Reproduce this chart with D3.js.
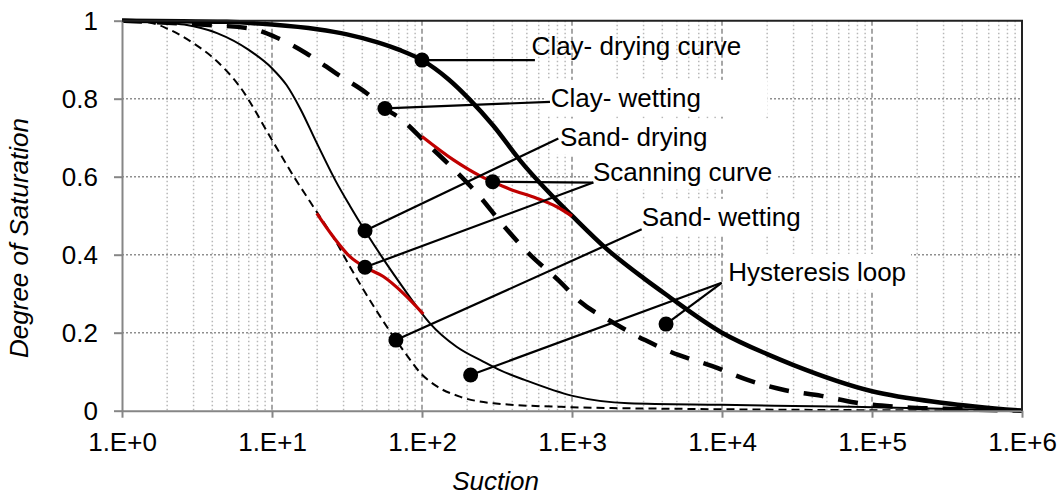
<!DOCTYPE html>
<meta charset="utf-8">
<style>
body { margin: 0; background: #fff; }
text { font-family: "Liberation Sans", Arial, sans-serif; fill: #000; }
.grid-major-h { stroke: #8f8f8f; stroke-width: 1.5px; stroke-dasharray: 2,2; }
.grid-major-v { stroke: #8a8a8a; stroke-width: 1.5px; stroke-dasharray: 5,3; }
.grid-minor-v { stroke: #b8b8b8; stroke-width: 1.5px; stroke-dasharray: 1.5,2.5; }
.axis path, .axis line { stroke: #868686; stroke-width: 2px; }
.axis text { font-size: 26px; fill: #000; }
</style>
<svg width="1063" height="495"></svg>
<script src="https://cdn.jsdelivr.net/npm/d3@7"></script>
<script>
// [suction, degree of saturation]
var clayDrying = [[1,1.0],[5,0.997],[10,0.99],[20,0.978],[31.6,0.965],[50,0.945],[70.8,0.925],[100,0.899],
  [150,0.85],[209,0.797],[300,0.73],[450,0.642],[700,0.56],[1000,0.5],[1700,0.415],[3000,0.34],
  [4236,0.298],[10000,0.2],[20000,0.145],[30000,0.117],[1e5,0.05],[3e5,0.02],[1e6,0]];
var clayWetting = [[1,1.0],[3.3,0.99],[7.1,0.98],[10.7,0.957],[17,0.916],[27.7,0.861],[42.8,0.814],[56.6,0.775],
  [71.3,0.75],[107,0.686],[162,0.62],[238,0.553],[340,0.48],[500,0.408],[830,0.331],[1130,0.28],[1840,0.228],
  [3070,0.181],[5120,0.143],[8530,0.115],[14800,0.079],[26000,0.053],[46000,0.038],[77000,0.021],
  [150000,0.01],[300000,0.005],[1e6,0]];
var sandDrying = [[1,1.0],[2,0.995],[2.6,0.99],[4.3,0.968],[7,0.925],[10,0.878],[12.5,0.835],[15.4,0.775],
  [19.9,0.686],[26.5,0.59],[33.1,0.525],[41.7,0.4615],[55,0.39],[75,0.315],[100,0.249],[113,0.224],[170,0.164],
  [256,0.126],[331,0.104],[483,0.079],[1010,0.038],[2380,0.019],[9900,0.015],[72800,0.01],[1e6,0]];
var sandWetting = [[1,1.0],[1.54,0.995],[2,0.98],[3,0.942],[4.07,0.904],[6.1,0.831],[10,0.694],[14,0.6],
  [18,0.535],[27,0.43],[33,0.37],[40,0.315],[50,0.255],[67,0.181],[80,0.14],[97,0.098],[125,0.063],
  [179,0.036],[300,0.019],[1000,0.009],[4600,0.005],[1e6,0]];
var scanSand = [[19.9,0.506],[25.6,0.446],[33.1,0.395],[41.7,0.368],[55.2,0.344],[75.1,0.301],[102,0.248]];
var scanClay = [[100,0.703],[162,0.643],[244,0.602],[296,0.587],[386,0.568],[581,0.545],[791,0.523],[1000,0.499]];

// callout labels: text start (suction), baseline (saturation), box = white backing
var labels = [
  {text: "Clay- drying curve", sx: 538, sy: 0.912, box: "none"},
  {text: "Clay- wetting", sx: 721, sy: 0.779, box: "wide"},
  {text: "Sand- drying", sx: 832, sy: 0.680, box: "wide"},
  {text: "Scanning curve", sx: 1380, sy: 0.590, box: "tight"},
  {text: "Sand- wetting", sx: 2915, sy: 0.474, box: "tight"},
  {text: "Hysteresis loop", sx: 11020, sy: 0.333, box: "tight"}
];
// leader lines: marker point -> label end
var leaders = [
  [[100,0.899],[566,0.899]],
  [[56.6,0.775],[713,0.792]],
  [[41.7,0.4615],[811,0.698]],
  [[296,0.587],[1387,0.585]],
  [[41.7,0.368],[1387,0.585]],
  [[67,0.181],[2914,0.465]],
  [[4236,0.222],[9950,0.328]],
  [[211,0.0915],[9950,0.328]]
];

var decades = [1,10,100,1e3,1e4,1e5,1e6];
var yTicks = [0,0.2,0.4,0.6,0.8,1];

var svg = d3.select("svg"),
    plotL = 122, plotR = 1022, plotT = 20.7, plotB = 410.7;

var x = d3.scaleLog().domain([1,1e6]).range([plotL,plotR]),
    y = d3.scaleLinear().domain([0,1]).range([plotB,plotT]);

// minor verticals
var minor = [];
decades.slice(0,-1).forEach(function(d) { for (var k = 2; k < 10; k++) minor.push(d*k); });

svg.append("g").selectAll("line").data(minor).enter().append("line")
    .attr("class","grid-minor-v")
    .attr("x1", function(d) { return x(d); }).attr("x2", function(d) { return x(d); })
    .attr("y1", plotT).attr("y2", plotB);

svg.append("g").selectAll("line").data(decades.slice(1,-1)).enter().append("line")
    .attr("class","grid-major-v")
    .attr("x1", function(d) { return x(d); }).attr("x2", function(d) { return x(d); })
    .attr("y1", plotT).attr("y2", plotB);

svg.append("g").selectAll("line").data(yTicks.slice(1,-1)).enter().append("line")
    .attr("class","grid-major-h")
    .attr("x1", plotL).attr("x2", plotR)
    .attr("y1", function(d) { return y(d); }).attr("y2", function(d) { return y(d); });

// white boxes behind the callout text
var boxLayer = svg.append("g");

var line = d3.line()
    .x(function(d) { return x(d[0]); })
    .y(function(d) { return y(d[1]); })
    .curve(d3.curveMonotoneX);

var series = [
  {data: sandWetting, w: 2, dash: "8,5", color: "#000"},
  {data: sandDrying, w: 2, dash: null, color: "#000"},
  {data: clayWetting, w: 4.5, dash: "20,15", color: "#000"},
  {data: clayDrying, w: 4.5, dash: null, color: "#000"},
  {data: scanSand, w: 3.2, dash: null, color: "#c00000"},
  {data: scanClay, w: 3.2, dash: null, color: "#c00000"}
];

svg.append("g").selectAll("path").data(series).enter().append("path")
    .attr("d", function(d) { return line(d.data); })
    .attr("fill","none")
    .attr("stroke", function(d) { return d.color; })
    .attr("stroke-width", function(d) { return d.w; })
    .attr("stroke-dasharray", function(d) { return d.dash; });

// axes
svg.append("g")
    .attr("class","axis")
    .attr("transform","translate(" + plotL + ",0)")
    .call(d3.axisLeft(y).tickValues(yTicks).tickSizeInner(8).tickSizeOuter(0).tickPadding(16)
      .tickFormat(function(d) { return d; }));

svg.append("g")
    .attr("class","axis")
    .attr("transform","translate(0," + plotB + ")")
    .call(d3.axisBottom(x).tickValues(decades).tickSizeInner(7).tickSizeOuter(0).tickPadding(15)
      .tickFormat(function(d) { return "1.E+" + Math.round(Math.log10(d)); }));

// top / right frame
svg.append("path")
    .attr("d", "M" + plotL + "," + plotT + "H" + plotR + "V" + plotB)
    .attr("fill","none").attr("stroke","#222").attr("stroke-width",2);

// leaders
svg.append("g").selectAll("line").data(leaders).enter().append("line")
    .attr("x1", function(d) { return x(d[0][0]); }).attr("y1", function(d) { return y(d[0][1]); })
    .attr("x2", function(d) { return x(d[1][0]); }).attr("y2", function(d) { return y(d[1][1]); })
    .attr("stroke","#000").attr("stroke-width",2.2);

svg.append("g").selectAll("circle").data(leaders).enter().append("circle")
    .attr("cx", function(d) { return x(d[0][0]); })
    .attr("cy", function(d) { return y(d[0][1]); })
    .attr("r", 7.5).attr("fill","#000");

var lab = svg.append("g").selectAll("text").data(labels).enter().append("text")
    .attr("x", function(d) { return x(d.sx); })
    .attr("y", function(d) { return y(d.sy); })
    .style("font-size","26px")
    .text(function(d) { return d.text; });

lab.each(function(d) {
  if (d.box == "none") return;
  var b = this.getBBox();
  var w = b.width + 10;
  if (d.box == "wide") w = Math.max(w, 222);   // these two sit in wider text boxes
  boxLayer.append("rect")
    .attr("x", b.x - 5).attr("y", b.y - 3)
    .attr("width", w).attr("height", b.height + 6)
    .attr("fill","#fff");
});

svg.append("text")
    .attr("transform","translate(28,238) rotate(-90)")
    .attr("text-anchor","middle")
    .style("font-size","26px").style("font-style","italic")
    .text("Degree of Saturation");

svg.append("text")
    .attr("x", 495.5).attr("y", 490)
    .attr("text-anchor","middle")
    .style("font-size","26px").style("font-style","italic")
    .text("Suction");
</script>
